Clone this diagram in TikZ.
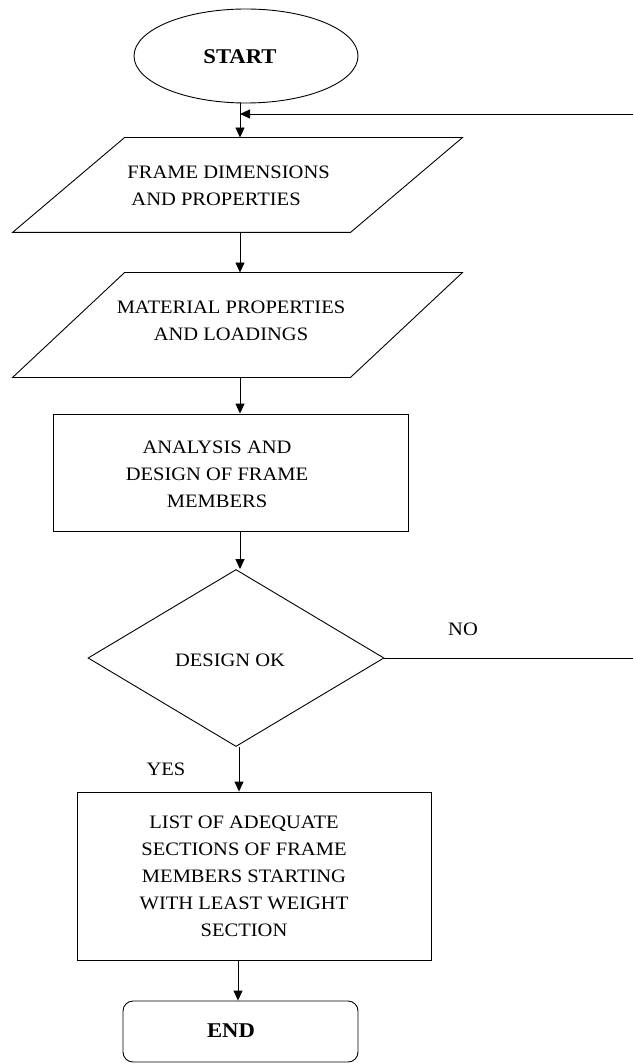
\documentclass[tikz,border=0pt]{standalone}
\usepackage{fontspec}
\setmainfont{Liberation Serif}[FakeStretch=1.08]
\usetikzlibrary{arrows.meta,shapes.geometric}
\begin{document}
\begin{tikzpicture}[x=1pt,y=-1pt,
  line width=0.9pt,
  txt/.style={font=\fontsize{19}{27}\selectfont, align=center, inner sep=0pt},
  term/.style={font=\fontsize{21}{24}\selectfont\bfseries, inner sep=0pt},
  arr/.style={-{Triangle[length=10pt,width=9pt]}},
  procbox/.style={draw, rectangle, inner sep=0pt},
]
\useasboundingbox (0,0) rectangle (633,1064);
\fill[white] (0,0) rectangle (633,1064);

% START
\node[draw, ellipse, inner sep=0pt, minimum width=224, minimum height=94] (start) at (246,56) {};
\node[term] (startlbl) at (240,57) {START};

% column for the main arrows
\coordinate (col) at (240,0);

% incoming loop arrow
\coordinate (loopin) at (633,114);
\coordinate (join) at (240,114);

% parallelogram 1
\node[inner sep=0pt, minimum width=337, minimum height=94] (p1) at (237.5,185) {};
\draw ([xshift=56pt]p1.north west) -- ([xshift=56pt]p1.north east)
   -- ([xshift=-56pt]p1.south east) -- ([xshift=-56pt]p1.south west) -- cycle;
\node[txt, align=left, anchor=west] (p1lbl) at (127,186) {FRAME DIMENSIONS\\\hspace*{4pt}AND PROPERTIES};

% parallelogram 2
\node[inner sep=0pt, minimum width=337, minimum height=104] (p2) at (237.5,325) {};
\draw ([xshift=56pt]p2.north west) -- ([xshift=56pt]p2.north east)
   -- ([xshift=-56pt]p2.south east) -- ([xshift=-56pt]p2.south west) -- cycle;
\node[txt] (p2lbl) at (231,321) {MATERIAL PROPERTIES\\AND LOADINGS};

% analysis box
\node[procbox, minimum width=355, minimum height=117] (rect1) at (230.5,472.5) {};
\node[txt] (rect1lbl) at (217,474) {ANALYSIS AND\\DESIGN OF FRAME\\MEMBERS};

% decision
\node[draw, diamond, inner sep=0pt, minimum width=296, minimum height=177] (dia) at (236,658) {};
\node[txt] (dialbl) at (230,660) {DESIGN OK};
\coordinate (noend) at (633,658);
\node[txt] (nolbl) at (463,629) {NO};
\node[txt] (yeslbl) at (166,769) {YES};

% list box
\node[procbox, minimum width=354, minimum height=168] (rect2) at (254,876) {};
\node[txt] (rect2lbl) at (244,876) {LIST OF ADEQUATE\\SECTIONS OF FRAME\\MEMBERS STARTING\\WITH LEAST WEIGHT\\SECTION};

% END
\node[draw, rectangle, rounded corners=10pt, inner sep=0pt, minimum width=235, minimum height=61] (end) at (240.5,1031.5) {};
\node[term] (endlbl) at (231,1031) {END};

% connectors
\draw[arr] (start.south -| col) -- (p1.north -| col);
\draw[arr] (loopin) -- (join);
\draw[arr] (p1.south -| col) -- (p2.north -| col);
\draw[arr] (p2.south -| col) -- (rect1.north -| col);
\draw[arr] (rect1.south -| col) -- (dia.north -| col);
\draw (dia.east) -- (noend);
\draw[arr] ([xshift=3pt]dia.south) -- ([xshift=3pt]dia.south |- rect2.north);
\draw[arr] ([xshift=-2pt]rect2.south -| col) -- ([xshift=-2pt]end.north -| col);
\end{tikzpicture}
\end{document}
